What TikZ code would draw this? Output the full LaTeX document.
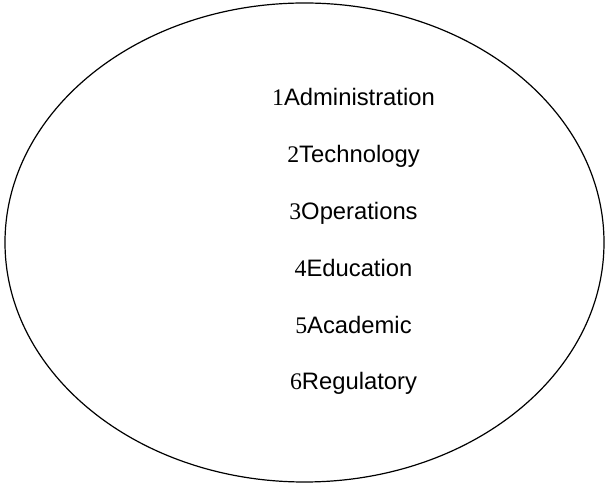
\documentclass[tikz,border=0pt]{standalone}
\usepackage{fontspec}
\setmainfont{Liberation Sans}
\newfontfamily\numfont{Liberation Serif}
\usetikzlibrary{positioning}
\newcommand{\itemno}[1]{{\numfont #1}}

\begin{document}
\begin{tikzpicture}[x=0.5pt, y=0.5pt, node distance=19.5pt,
	entry/.style={inner sep=0pt, text height=8.5pt, text depth=0pt,
		font=\fontsize{11.9}{14}\selectfont}]
	\useasboundingbox (0,0) rectangle (607,487);
	\draw [line width=0.6pt] (304.5,244.5) ellipse [x radius=299.5, y radius=239.5];
	\node [entry] (admin) at (353.5,389.5) {\itemno{1}Administration};
	\node [entry, below=of admin] (tech) {\itemno{2}Technology};
	\node [entry, below=of tech] (ops) {\itemno{3}Operations};
	\node [entry, below=of ops] (edu) {\itemno{4}Education};
	\node [entry, below=of edu] (acad) {\itemno{5}Academic};
	\node [entry, below=of acad] (reg) {\itemno{6}Regulatory};
\end{tikzpicture}
\end{document}
